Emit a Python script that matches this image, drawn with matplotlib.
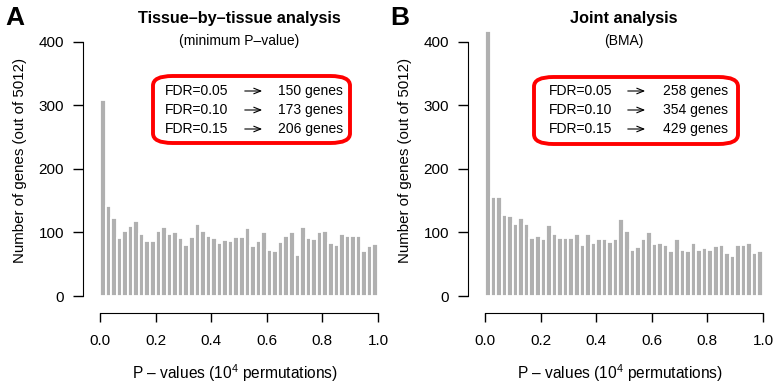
"""
P-value histograms: tissue-by-tissue vs joint analysis
"""

import numpy as np
import matplotlib.pyplot as plt
from matplotlib.patches import FancyBboxPatch, FancyArrowPatch

plt.rcParams['font.family'] = ['Liberation Sans', 'DejaVu Sans']
plt.rcParams['mathtext.fontset'] = 'custom'
plt.rcParams['mathtext.rm'] = 'Liberation Sans'
plt.rcParams['mathtext.it'] = 'Liberation Sans:italic'

# Data: gene counts per P-value bin (50 bins of width 0.02)
counts_tissue = [308, 142, 123, 92, 102, 110, 118, 97, 86, 87,
                 102, 108, 97, 101, 91, 80, 93, 113, 103, 95,
                 91, 83, 88, 87, 93, 93, 107, 79, 87, 101,
                 73, 70, 85, 95, 100, 64, 108, 92, 90, 101,
                 103, 84, 80, 97, 94, 95, 95, 71, 78, 82]
counts_joint = [417, 155, 155, 128, 126, 114, 122, 113, 91, 94,
                89, 112, 97, 91, 91, 91, 98, 80, 97, 84,
                90, 90, 85, 89, 121, 103, 72, 77, 89, 101,
                82, 84, 80, 71, 90, 73, 71, 84, 72, 75,
                73, 79, 80, 68, 63, 80, 80, 83, 68, 71]
bin_edges = np.linspace(0, 1, 51)

panel_letters = ['A', 'B']
titles = ['Tissue\u2013by\u2013tissue analysis', 'Joint analysis']
subtitles = ['(minimum P\u2013value)', '(BMA)']
fdr_levels = ['FDR=0.05', 'FDR=0.10', 'FDR=0.15']
genes_tissue = [150, 173, 206]
genes_joint = [258, 354, 429]

W, H = 776, 384
fig = plt.figure(figsize=(W / 100, H / 100), dpi=100)


def px(x, y):
    return x / W, 1 - y / H


def make_panel(x0, x1, counts, letter, title, subtitle, genes, box, text_x):
    y0, y1 = 296, 41.7
    ax = fig.add_axes([x0 / W, (H - y0) / H, (x1 - x0) / W, (y0 - y1) / H])
    ax.bar(bin_edges[:-1], counts, width=0.02, align='edge', color='#b0b0b0',
           edgecolor='white', linewidth=1.3, clip_on=False)
    ax.set_xlim(0, 1)
    ax.set_ylim(0, 400)
    for s in ['top', 'right']:
        ax.spines[s].set_visible(False)
    ax.spines['left'].set_position(('outward', 12))
    ax.spines['bottom'].set_position(('outward', 12))
    ax.spines['left'].set_bounds(0, 400)
    ax.spines['bottom'].set_bounds(0, 1)
    ax.set_xticks(np.arange(0, 1.01, 0.2))
    ax.set_xticklabels(['0.0', '0.2', '0.4', '0.6', '0.8', '1.0'])
    ax.set_yticks([0, 100, 200, 300, 400])
    ax.tick_params(axis='x', length=6.5, width=1, pad=9, labelsize=11)
    ax.tick_params(axis='y', length=7, width=1, pad=7, labelsize=11)
    ax.set_facecolor('none')

    cx = (x0 + x1) / 2
    fig.text(*px(x0 - 80, 160), 'Number of genes (out of 5012)', rotation=90,
             ha='center', va='center', fontsize=10.8)
    fig.text(*px(cx - 4, 373), 'P \u2013 values (10$^{4}$ permutations)',
             ha='center', va='center', fontsize=11.2)
    fig.text(*px(cx, 18), title, ha='center', va='center', fontsize=11.7, fontweight='bold')
    fig.text(*px(cx, 41), subtitle, ha='center', va='center', fontsize=10)
    fig.text(*px(x0 - 85, 18), letter, ha='center', va='center', fontsize=19, fontweight='bold')

    bx0, by0, bx1, by1 = box
    rect = FancyBboxPatch(
        (bx0 / W, 1 - by1 / H), (bx1 - bx0) / W, (by1 - by0) / H,
        boxstyle='round,pad=0,rounding_size=0.025', transform=fig.transFigure,
        facecolor='white', edgecolor='#ff0000', linewidth=2.8)
    fig.patches.append(rect)

    fx, ax0, ax1, gx = text_x
    for i, (lvl, g) in enumerate(zip(fdr_levels, genes)):
        ty = 91 + i * 19
        fig.text(*px(fx, ty), lvl, ha='left', va='center', fontsize=10)
        fig.patches.append(FancyArrowPatch(
            px(ax0, ty), px(ax1, ty), transform=fig.transFigure,
            arrowstyle='->,head_length=5,head_width=2', color='black',
            linewidth=0.8, mutation_scale=1))
        fig.text(*px(gx, ty), f'{g} genes', ha='right', va='center', fontsize=10)
    return ax


make_panel(100, 378, counts_tissue, panel_letters[0], titles[0], subtitles[0],
           genes_tissue, (153, 76, 350, 143), (165, 242, 265, 343))
make_panel(485, 763, counts_joint, panel_letters[1], titles[1], subtitles[1],
           genes_joint, (534, 77, 738, 144), (549, 625, 648, 728))

plt.savefig('out.png', dpi=100)
